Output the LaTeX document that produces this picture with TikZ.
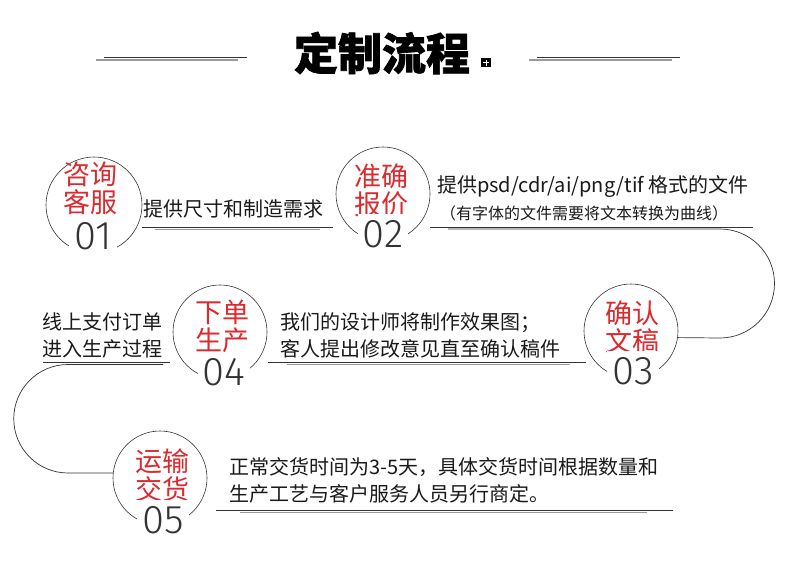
\documentclass[tikz,border=0pt]{standalone}
\usepackage{fontspec}
\setmainfont{Noto Sans CJK SC}
\newfontfamily\titlefont{Noto Sans CJK SC}[BoldFeatures={FakeBold=1.5}]
\newfontfamily\numfont{Fira Sans Light}
\usetikzlibrary{positioning}
\definecolor{redmark}{HTML}{DC2A2E}
\definecolor{inkline}{HTML}{333333}
\definecolor{shadeline}{HTML}{9A9A9A}
\definecolor{bodytext}{HTML}{1A1A1A}

\begin{document}
\begin{tikzpicture}[x=1pt, y=-1pt,
    ring/.style={circle, draw=inkline, line width=0.6pt, minimum size=#1, inner sep=0pt},
    ring/.default=94pt,
    redlabel/.style={text=redmark, align=center, inner sep=0pt,
                     font=\fontsize{27}{28}\selectfont},
    numlabel/.style={fill=white, inner xsep=5pt, inner ysep=6pt, text=inkline,
                     font=\numfont\fontsize{40}{40}\selectfont},
    txt/.style={anchor=west, align=left, inner sep=0pt, text=bodytext,
                font=\fontsize{20}{27}\selectfont},
    ul/.style={draw=inkline, line width=0.8pt},
    sh/.style={draw=shadeline, line width=1.2pt},
    track/.style={draw=inkline, line width=0.7pt}
]
\useasboundingbox[fill=white] (0,0) rectangle (790,582);

% title
\node[font=\titlefont\bfseries\fontsize{44}{44}\selectfont, text=black] (title) at (382,53) {定制流程};
\fill[black] (481,58) rectangle (491,67);
\draw[white, line width=0.6pt] (486,59.5) -- (486,65.5) (483,62.5) -- (489,62.5);
\draw[ul] (104,57) -- (247,57);
\draw[sh] (96,60) -- (238,60);
\draw[ul] (537,57) -- (680,57);
\draw[sh] (529,60) -- (672,60);

% steps
\node[ring=96pt] (c1) at (94,205) {};
\node[ring] (c2) at (383,194) {};
\node[ring] (c3) at (631,331) {};
\node[ring] (c4) at (220,332) {};
\node[ring] (c5) at (160,478) {};

\node[redlabel] (r1) at (90,188) {咨询\\客服};
\node[redlabel] (r2) at (381,190) {准确\\报价};
\node[redlabel] (r3) at (632,327) {确认\\文稿};
\node[redlabel] (r4) at (222,326) {下单\\生产};
\node[redlabel] (r5) at (162,475) {运输\\交货};

\node[numlabel] (n1) at (93,236) {01};
\node[numlabel] (n2) at (383,234) {02};
\node[numlabel] (n3) at (633,371) {03};
\node[numlabel] (n4) at (224,372) {04};
\node[numlabel] (n5) at (163,520) {05};

% texts
\node[txt] (l1) at (143,209) {提供尺寸和制造需求};
\node[txt] (l2a) at (437,187) {提供psd/cdr/ai/png/tif 格式的文件};
\node[txt, font=\fontsize{16}{20}\selectfont] (l2b) at (440,213) {（有字体的文件需要将文本转换为曲线）};
\node[txt] (l3) at (280,335) {我们的设计师将制作效果图；\\客人提出修改意见直至确认稿件};
\node[txt] (l4) at (42,335) {线上支付订单\\进入生产过程};
\node[txt] (l5) at (229,480) {正常交货时间为3-5天，具体交货时间根据数量和\\生产工艺与客户服务人员另行商定。};

% underlines and tracks
\coordinate (s2) at (448,229);
\coordinate (s4) at (163,364.5);
\draw[ul] (142,227) -- (333,227);
\draw[sh] (155,229.5) -- (320,229.5);
\draw[ul] (430,227) -- (753,227);
\draw[track] (s2) -- (720,229) arc[start angle=-90, end angle=90, radius=54.5] -- (c3.-8);
\draw[ul] (268,362) -- (586,362);
\draw[sh] (287,364.5) -- (570,364.5);
\draw[ul] (43,362) -- (170,362);
\draw[track] (s4) -- (68,364.5) arc[start angle=-90, end angle=-270, radius=54.25] -- (c5.174);
\draw[ul] (216,510) -- (673,510);
\draw[sh] (240,512.5) -- (647,512.5);
\end{tikzpicture}
\end{document}
